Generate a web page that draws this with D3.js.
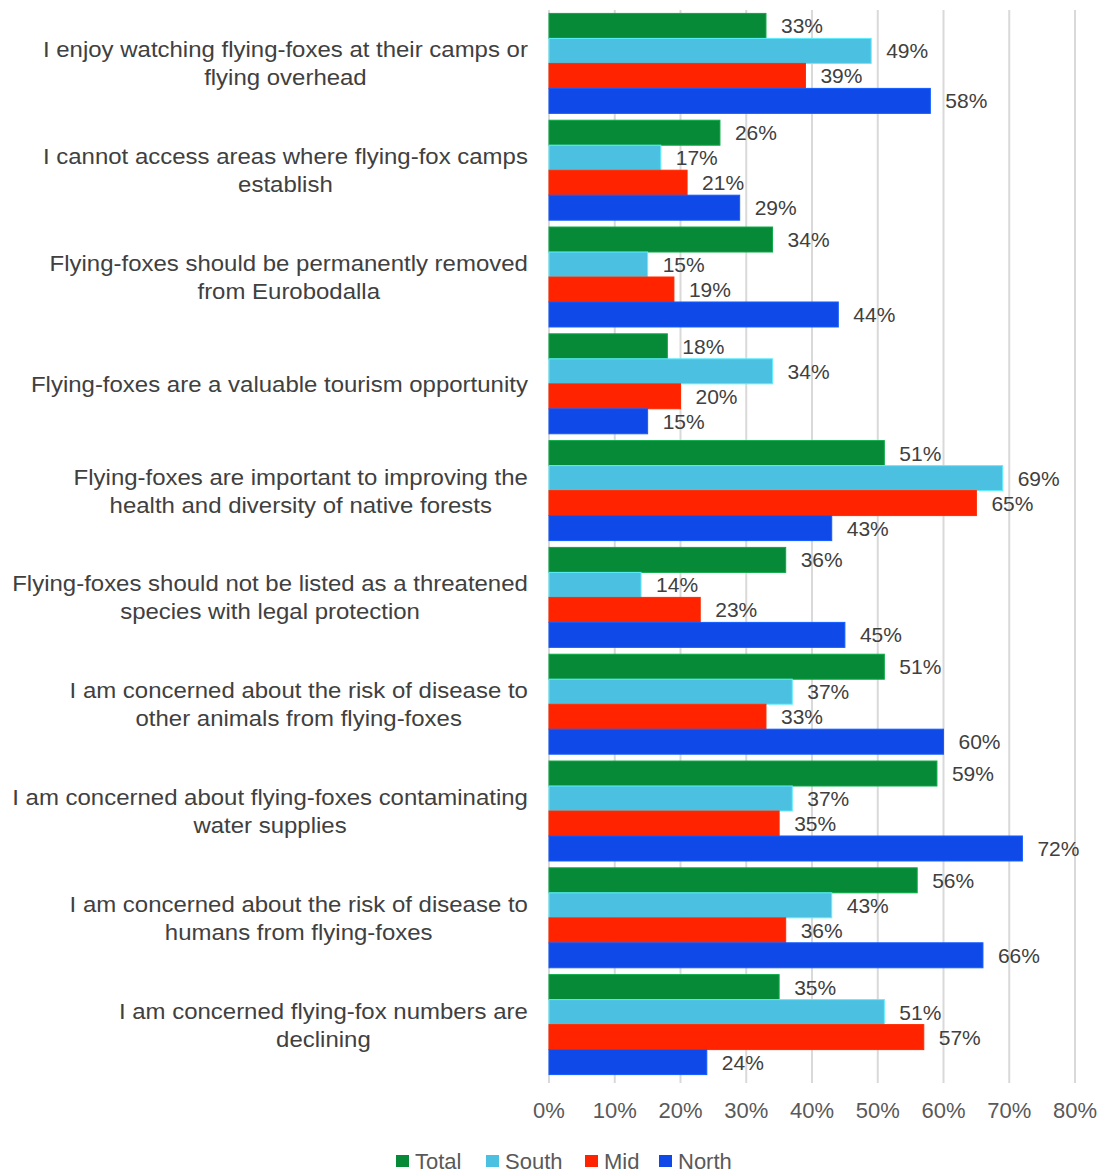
<!DOCTYPE html>
<html>
<head>
<meta charset="utf-8">
<script src="https://cdn.jsdelivr.net/npm/d3@7"></script>
<style>
  body { margin: 0; background: #fff; }
  svg { display: block; font-family: "Liberation Sans", Arial, sans-serif; }
</style>
</head>
<body>
<svg id="chart" width="1105" height="1175"></svg>
<script>
// Survey statements (each wrapped into display lines)
const categories = [
  ["I enjoy watching flying-foxes at their camps or", "flying overhead"],
  ["I cannot access areas where flying-fox camps", "establish"],
  ["Flying-foxes should be permanently removed", "from Eurobodalla"],
  ["Flying-foxes are a valuable tourism opportunity"],
  ["Flying-foxes are important to improving the", "health and diversity of native forests"],
  ["Flying-foxes should not be listed as a threatened", "species with legal protection"],
  ["I am concerned about the risk of disease to", "other animals from flying-foxes"],
  ["I am concerned about flying-foxes contaminating", "water supplies"],
  ["I am concerned about the risk of disease to", "humans from flying-foxes"],
  ["I am concerned flying-fox numbers are", "declining"]
];

const seriesNames = ["Total", "South", "Mid", "North"];
const totalValues = [33, 26, 34, 18, 51, 36, 51, 59, 56, 35];
const southValues = [49, 17, 15, 34, 69, 14, 37, 37, 43, 51];
const midValues   = [39, 21, 19, 20, 65, 23, 33, 35, 36, 57];
const northValues = [58, 29, 44, 15, 43, 45, 60, 72, 66, 24];
const tickValues  = [0, 10, 20, 30, 40, 50, 60, 70, 80];

const seriesValues = [totalValues, southValues, midValues, northValues];
const colors = ["#078a38", "#4bc0e1", "#ff2300", "#0f4ae8"];

const svg = d3.select("#chart");
const plotLeft = 549, plotRight = 1075, plotTop = 10, plotBottom = 1078;

const x = d3.scaleLinear().domain([0, 80]).range([plotLeft, plotRight]);
const y = d3.scaleBand().domain(d3.range(categories.length)).range([plotTop, plotBottom])
  .paddingInner(0.064).paddingOuter(0.032);
const ySub = d3.scaleBand().domain(d3.range(seriesNames.length)).range([0, y.bandwidth()]);

// Vertical gridlines
svg.append("g").selectAll("line").data(tickValues).join("line")
  .attr("x1", d => x(d)).attr("x2", d => x(d))
  .attr("y1", plotTop).attr("y2", plotBottom + 5)
  .attr("stroke", "#d9d9d9").attr("stroke-width", 2);

// Bars with value labels
const groups = svg.append("g").selectAll("g").data(categories).join("g")
  .attr("transform", (d, i) => `translate(0,${y(i)})`);

groups.each(function (d, i) {
  const g = d3.select(this);
  seriesNames.forEach((s, j) => {
    const v = seriesValues[j][i];
    g.append("rect")
      .attr("x", x(0))
      .attr("y", ySub(j))
      .attr("width", x(v) - x(0))
      .attr("height", ySub.bandwidth())
      .attr("fill", colors[j])
      .attr("stroke", d3.color(colors[j]).brighter(0.6))
      .attr("stroke-width", 1);
    g.append("text")
      .attr("x", x(v) + 15)
      .attr("y", ySub(j) + ySub.bandwidth() / 2)
      .attr("dy", "0.36em")
      .attr("font-size", 21)
      .attr("fill", "#404040")
      .text(v + "%");
  });
});

// Category labels: lines centred on each other, block right-aligned to the axis
const lineH = 28, labelRight = 528, stretch = 1.09;
svg.append("g").selectAll("g").data(categories).join("g")
  .each(function (lines, i) {
    const cy = y(i) + y.bandwidth() / 2;
    const g = d3.select(this);
    const t = g.append("text")
      .attr("text-anchor", "middle")
      .attr("font-size", 22)
      .attr("fill", "#404040");
    const spans = lines.map((ln, k) => t.append("tspan")
      .attr("x", 0)
      .attr("y", cy + (k - (lines.length - 1) / 2) * lineH)
      .attr("dy", "0.36em")
      .text(ln));
    const maxW = d3.max(spans, s => s.node().getComputedTextLength());
    const cx = labelRight - maxW * stretch / 2;
    g.attr("transform", `translate(${cx},0) scale(${stretch},1)`);
  });

// X axis tick labels
svg.append("g").selectAll("text").data(tickValues).join("text")
  .attr("x", d => x(d)).attr("y", 1110)
  .attr("dy", "0.36em")
  .attr("text-anchor", "middle")
  .attr("font-size", 22)
  .attr("fill", "#595959")
  .text(d => d + "%");

// Legend
const legendX = [396, 486, 585, 659];
const legend = svg.append("g").selectAll("g").data(seriesNames).join("g")
  .attr("transform", (d, i) => `translate(${legendX[i]},1155)`);
legend.append("rect").attr("width", 13).attr("height", 12)
  .attr("fill", (d, i) => colors[i]);
legend.append("text").attr("x", 19).attr("y", 6).attr("dy", "0.36em")
  .attr("font-size", 22).attr("fill", "#595959").text(d => d);
</script>
</body>
</html>
